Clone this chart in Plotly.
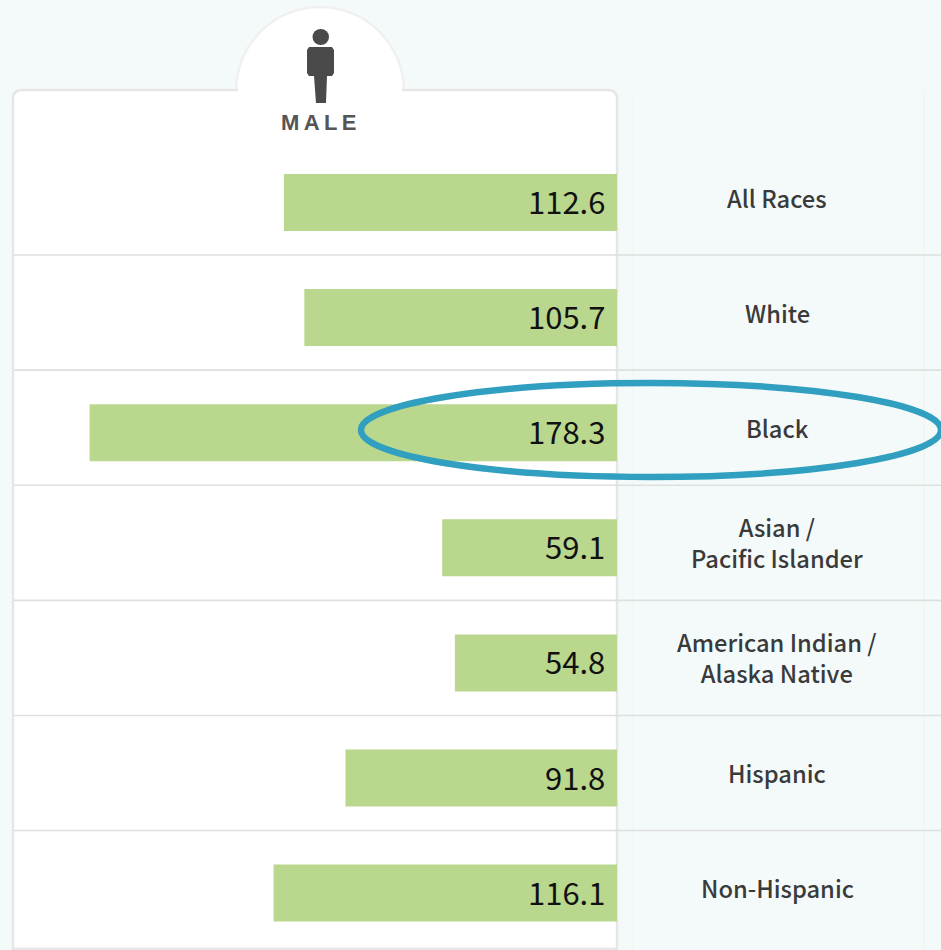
import plotly.graph_objects as go

categories = ["All Races", "White", "Black", "Asian /<br>Pacific Islander",
              "American Indian /<br>Alaska Native", "Hispanic", "Non-Hispanic"]
male_rates = [112.6, 105.7, 178.3, 59.1, 54.8, 91.8, 116.1]

W, H = 941, 950
SCALE = 2.958
ZERO_PX = 617
FIRST_PX = 202.5
ROW = 115.1
GREEN = "#b9d78d"
BG = "#f4fafa"
LINE = "#dfdfdf"

def fx(x):
    return x / W

def fy(y):
    return 1 - y / H

def box(x0, y0, x1, y1, **kw):
    return dict(type="rect", xref="paper", yref="paper", x0=fx(x0), x1=fx(x1),
                y0=fy(y0), y1=fy(y1), layer="below", **kw)

def circle(x0, y0, x1, y1, layer="below", **kw):
    return dict(type="circle", xref="paper", yref="paper", x0=fx(x0), x1=fx(x1),
                y0=fy(y0), y1=fy(y1), layer=layer, **kw)

def poly(points, layer="below", **kw):
    d = "M" + " L".join(f"{fx(x):.5f},{fy(y):.5f}" for x, y in points) + " Z"
    return dict(type="path", xref="paper", yref="paper", path=d, layer=layer, **kw)

def rounded_card(x0, y0, x1, y1, r):
    d = (f"M{fx(x0):.5f},{fy(y1):.5f} L{fx(x0):.5f},{fy(y0 + r):.5f} "
         f"Q{fx(x0):.5f},{fy(y0):.5f} {fx(x0 + r):.5f},{fy(y0):.5f} "
         f"L{fx(x1 - r):.5f},{fy(y0):.5f} "
         f"Q{fx(x1):.5f},{fy(y0):.5f} {fx(x1):.5f},{fy(y0 + r):.5f} "
         f"L{fx(x1):.5f},{fy(y1):.5f} Z")
    return dict(type="path", xref="paper", yref="paper", path=d, layer="below",
                fillcolor="white", line=dict(color="#e6e6e6", width=2.5))

fig = go.Figure(go.Bar(
    x=male_rates, y=categories, orientation="h", width=0.495,
    marker=dict(color=GREEN, line=dict(width=0)), hoverinfo="skip",
))

shapes = [
    circle(236, 7, 404, 175, fillcolor="white", line=dict(color="#f0f0f0", width=2.5)),
    rounded_card(13, 90, 617, 949, 9),
    box(238, 88, 402, 96, fillcolor="white", line=dict(width=0)),
    box(632, 97, 633, 950, fillcolor="#f1f6f3", line=dict(width=0)),
    box(923, 90, 925, 950, fillcolor="#f1f6f3", line=dict(width=0)),
]
sep_offset = 5 / ROW
for i in range(len(categories) - 1):
    shapes.append(dict(type="line", xref="paper", yref="y", x0=fx(14), x1=1,
                       y0=i + 0.5 - sep_offset, y1=i + 0.5 - sep_offset, layer="below",
                       line=dict(color=LINE, width=1.6)))
# person icon
shapes.append(circle(312.5, 29, 329, 45, fillcolor="#4a4a4a", line=dict(width=0)))
shapes.append(poly([(309, 47), (332, 47), (334, 50), (334, 73), (332, 76), (327, 76),
                    (326, 103), (316, 103), (314, 76), (309, 76), (307, 73), (307, 50)],
                   fillcolor="#4a4a4a", line=dict(width=0)))
# highlight ellipse
shapes.append(circle(361, 383, 941, 477, layer="above", fillcolor="rgba(0,0,0,0)",
                     line=dict(color="#319fbf", width=6.5)))

annotations = []
for cat, val in zip(categories, male_rates):
    annotations.append(dict(x=0, y=cat, xref="x", yref="y", text=f"{val}", showarrow=False,
                            xanchor="right", yanchor="middle", xshift=-10, yshift=2,
                            font=dict(family="Noto Sans CJK SC", size=31, color="#111111")))
    annotations.append(dict(x=fx(777), y=cat, xref="paper", yref="y", text=cat, showarrow=False,
                            xanchor="center", yanchor="middle", yshift=5,
                            font=dict(family="Noto Sans CJK SC", size=23.7, color="#3a3a3a",
                                      weight=500)))
annotations.append(dict(x=fx(318.5), y=fy(122), xref="paper", yref="paper",
                        text="M\u2009A\u2009L\u2009E", showarrow=False, xanchor="center",
                        yanchor="middle",
                        font=dict(family="Liberation Sans", size=22, color="#555555", weight="bold")))

fig.update_layout(
    width=W, height=H, margin=dict(l=0, r=0, t=0, b=0),
    paper_bgcolor=BG, plot_bgcolor="rgba(0,0,0,0)", showlegend=False,
    xaxis=dict(range=[ZERO_PX / SCALE, -(W - ZERO_PX) / SCALE], visible=False, fixedrange=True),
    yaxis=dict(type="category", categoryorder="array", categoryarray=categories,
               range=[(H - FIRST_PX) / ROW, -FIRST_PX / ROW], visible=False, fixedrange=True),
    shapes=shapes, annotations=annotations,
)
fig.write_html("out.html", config={"displayModeBar": False},
               post_script="document.body.style.margin='0';document.body.style.background='#f4fafa';")
